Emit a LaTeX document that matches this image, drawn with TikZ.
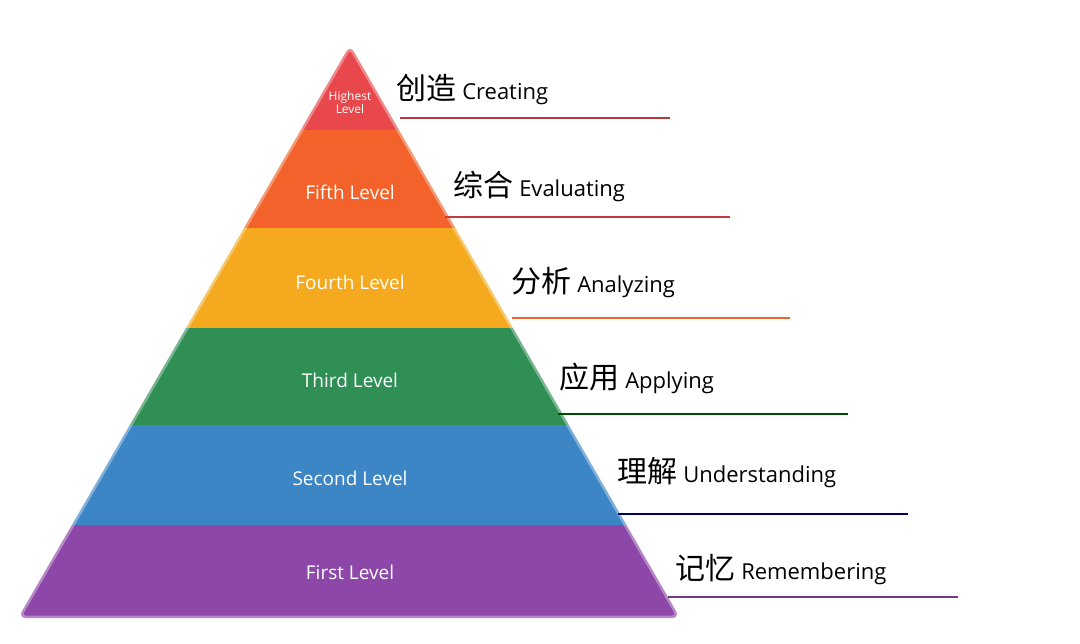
\documentclass[tikz,border=0pt]{standalone}
\usepackage{fontspec}
\setmainfont{Open Sans}
\newfontfamily\cjk{Noto Sans CJK SC}
\begin{document}
\begin{tikzpicture}[x=1pt,y=-1pt,
  lvl/.style={text=white,font=\fontsize{19}{20}\selectfont},
  lab/.style={anchor=west,font=\fontsize{22}{24}\selectfont},
  ul/.style={line width=2.5pt}]
\useasboundingbox (0,0) rectangle (1080,644);
\definecolor{cR}{HTML}{E8474B}\definecolor{cO}{HTML}{F2622A}
\definecolor{cY}{HTML}{F4A91E}\definecolor{cG}{HTML}{2F8F55}
\definecolor{cB}{HTML}{3C86C6}\definecolor{cP}{HTML}{8C47A8}
\coordinate (A) at (350,45);\coordinate (L) at (18,618);\coordinate (R) at (680,618);
\begin{scope}
\clip[rounded corners=8pt] (A)--(L)--(R)--cycle;
\fill[cR] (0,40) rectangle (1080,130);
\fill[cO] (0,130) rectangle (1080,228);
\fill[cY] (0,228) rectangle (1080,328);
\fill[cG] (0,328) rectangle (1080,425);
\fill[cB] (0,425) rectangle (1080,525);
\fill[cP] (0,525) rectangle (1080,620);
\end{scope}
\draw[white,opacity=0.35,line width=5pt,rounded corners=8pt] (A)--(L)--(R)--cycle;
\node[lvl,font=\fontsize{12}{13}\selectfont,align=center] (l6) at (350,103) {Highest\\Level};
\node[lvl] (l5) at (350,192) {Fifth Level};
\node[lvl] (l4) at (350,282) {Fourth Level};
\node[lvl] (l3) at (350,380) {Third Level};
\node[lvl] (l2) at (350,478) {Second Level};
\node[lvl] (l1) at (350,572) {First Level};
\node[lab] (t6) at (393,90) {{\cjk\fontsize{30}{32}\selectfont 创造} Creating};
\node[lab] (t5) at (450,186) {{\cjk\fontsize{30}{32}\selectfont 综合} Evaluating};
\node[lab] (t4) at (508,283) {{\cjk\fontsize{30}{32}\selectfont 分析} Analyzing};
\node[lab] (t3) at (556,378) {{\cjk\fontsize{30}{32}\selectfont 应用} Applying};
\node[lab] (t2) at (614,473) {{\cjk\fontsize{30}{32}\selectfont 理解} Understanding};
\node[lab] (t1) at (672,570) {{\cjk\fontsize{30}{32}\selectfont 记忆} Remembering};
\coordinate (u6a) at (400,118);\coordinate (u6b) at (670,118);
\coordinate (u5a) at (445,217);\coordinate (u5b) at (730,217);
\coordinate (u4a) at (512,318);\coordinate (u4b) at (790,318);
\coordinate (u3a) at (558,414);\coordinate (u3b) at (848,414);
\coordinate (u2a) at (618,514);\coordinate (u2b) at (908,514);
\coordinate (u1a) at (668,597);\coordinate (u1b) at (958,597);
\draw[ul,cR!80!black] (u6a)--(u6b);
\draw[ul,cR!85!black] (u5a)--(u5b);
\draw[ul,cO] (u4a)--(u4b);
\draw[ul,green!30!black] (u3a)--(u3b);
\draw[ul,blue!40!black] (u2a)--(u2b);
\draw[ul,cP!80!black] (u1a)--(u1b);
\end{tikzpicture}
\end{document}
